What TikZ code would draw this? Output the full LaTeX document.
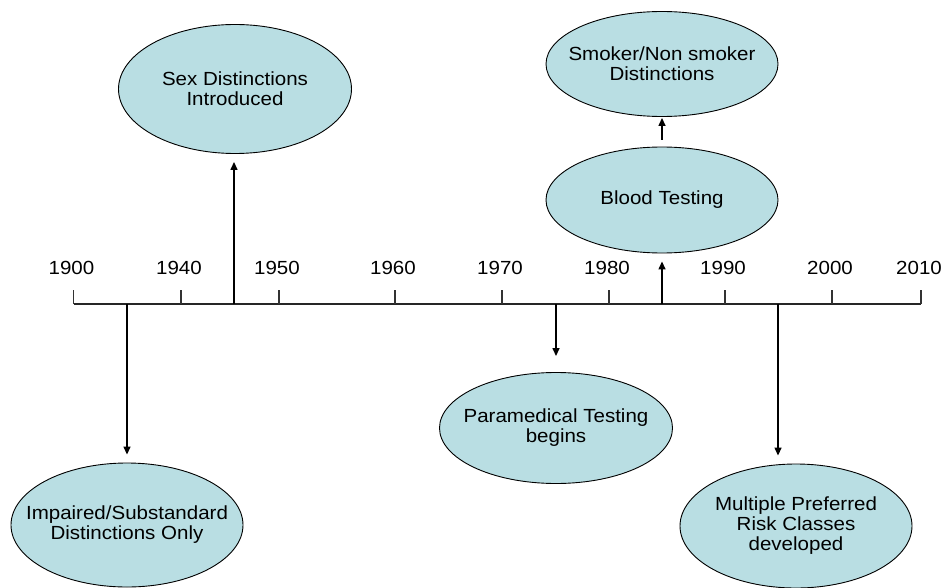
\documentclass[tikz,border=0pt]{standalone}
\usepackage{fontspec}
\setmainfont{Liberation Sans}[FakeStretch=1.08]
\usetikzlibrary{arrows.meta,shapes.geometric}
\definecolor{bubble}{RGB}{185,222,227}
\begin{document}
\begin{tikzpicture}[x=1pt,y=-1pt,
  bub/.style={ellipse,draw=black,line width=0.9pt,fill=bubble,inner xsep=-35pt,inner ysep=-20pt,
    align=center,font=\fontsize{19}{20}\selectfont},
  yr/.style={font=\fontsize{19}{19}\selectfont,anchor=center},
  axisline/.style={line width=2pt,black!85},
  tickline/.style={line width=1.5pt,black!80},
  conn/.style={line width=1.4pt,-{Triangle[length=8pt,width=7pt]}}]
\useasboundingbox (0,0) rectangle (944,588);
% ellipses
\node[bub,minimum width=233pt,minimum height=129pt] (sex) at (235,89) {Sex Distinctions\\Introduced};
\node[bub,minimum width=232pt,minimum height=105pt] (smoker) at (662,64) {Smoker/Non smoker\\Distinctions};
\node[bub,minimum width=232pt,minimum height=106pt] (blood) at (662,200) {Blood Testing};
\node[bub,minimum width=233pt,minimum height=111pt] (para) at (556,428) {Paramedical Testing\\begins};
\node[bub,minimum width=232pt,minimum height=124pt] (imp) at (127,525) {Impaired/Substandard\\Distinctions Only};
\node[bub,minimum width=232pt,minimum height=124pt] (mult) at (796,526) {Multiple Preferred\\Risk Classes\\developed};
% axis
\coordinate (a0) at (73.5,304);
\coordinate (a1) at (921,304);
\draw[axisline] (a0) -- (a1);
\foreach \x/\lab in {73.5/1900,181/1940,279/1950,395/1960,502/1970,609/1980,725/1990,832/2000,921/2010}{
  \coordinate (tk\lab) at (\x,304);
  \draw[tickline] (tk\lab) -- ++(0,-14);
  \node[yr] (lab\lab) at (\x-2,268) {\lab};
}
% event points on the axis
\coordinate (e1) at (234,304);
\coordinate (e2) at (662,304);
\coordinate (e3) at (127,304);
\coordinate (e4) at (556,304);
\coordinate (e5) at (778,304);
% connectors
\draw[conn,shorten >=8pt] (e1) -- (e1 |- sex.south);
\draw[conn,shorten >=8pt] (e2) -- (blood.south);
\draw[conn,shorten <=7pt,shorten >=1pt] (blood.north) -- (smoker.south);
\draw[conn,shorten >=8pt] (e3) -- (imp.north);
\draw[conn,shorten >=16pt] (e4) -- (para.north);
\draw[conn,shorten >=8pt] (e5) -- (e5 |- mult.north);
\end{tikzpicture}
\end{document}
